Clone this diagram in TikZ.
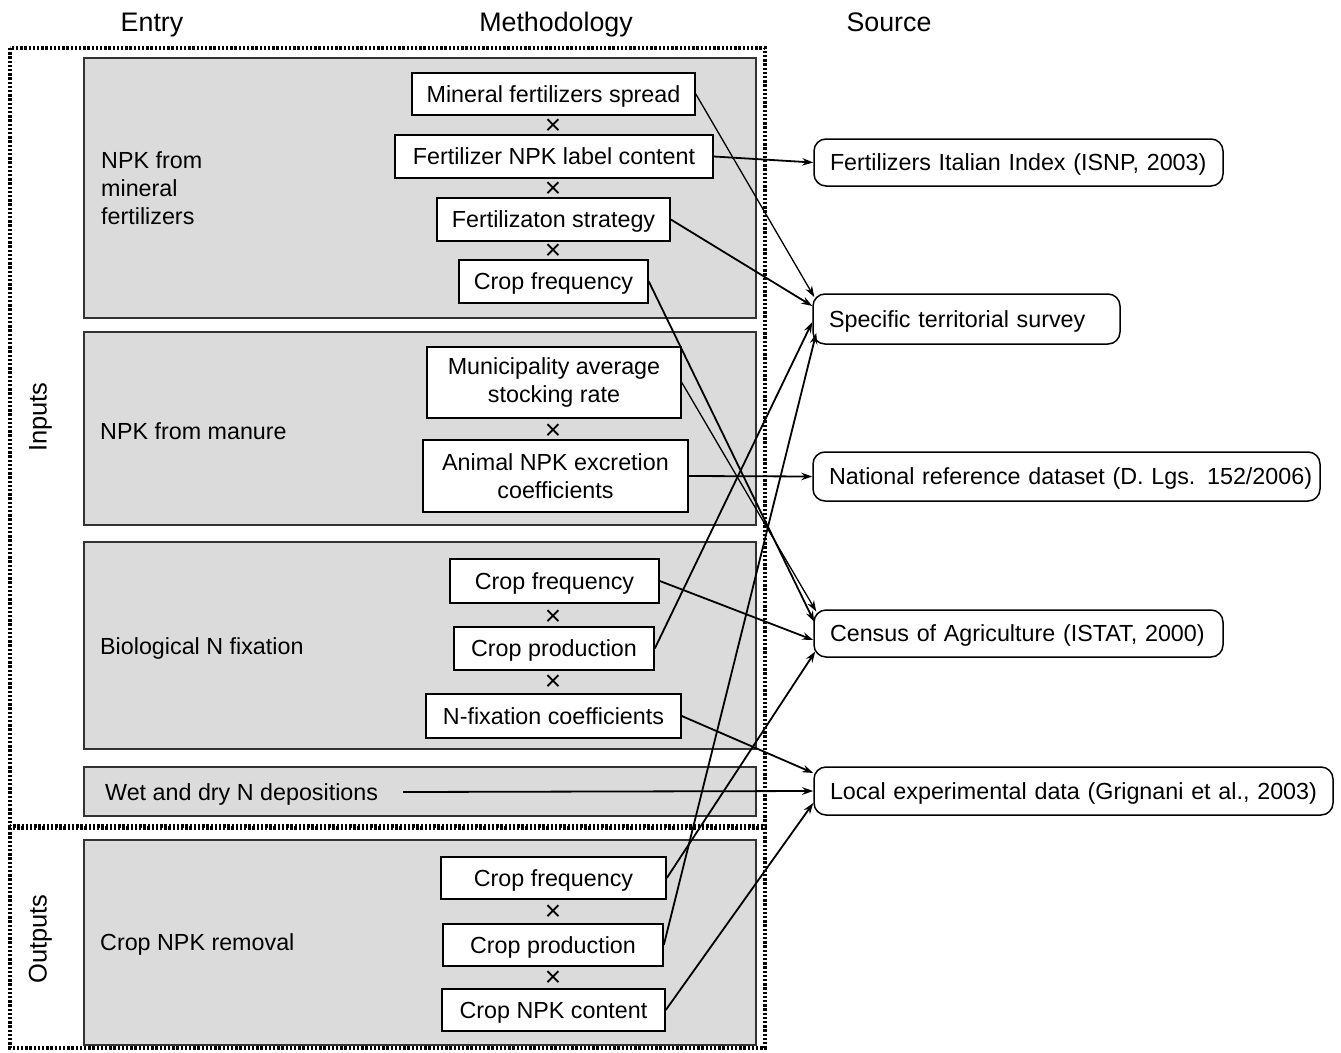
\documentclass[tikz,border=0pt]{standalone}
\usepackage{fontspec}
\setmainfont{Liberation Sans}
\usetikzlibrary{arrows.meta}
\newcommand\bodyfont{\fontsize{23.3}{28}\selectfont}
\newcommand\headfont{\fontsize{26.8}{30}\selectfont}
\newcommand\sidefont{\fontsize{25.5}{30}\selectfont}
\newcommand\mulfont{\fontsize{28}{28}\selectfont}
\begin{document}
\begin{tikzpicture}[x=1pt,y=-1pt,
 gbox/.style={draw=black!80, fill=black!14, line width=1.8pt},
 wboxbase/.style={draw=black, fill=white, line width=1.6pt, inner sep=0pt, align=center, font=\bodyfont},
 wbox/.style={wboxbase, text height=16.7pt, text depth=0pt},
 sbox/.style={draw=black, fill=white, rounded corners=12pt, line width=1.5pt, inner ysep=0pt, inner xsep=16pt, align=left, font=\bodyfont, text height=16.7pt, text depth=0pt},
 lblbase/.style={anchor=west, inner sep=0pt, align=left, font=\bodyfont},
 lbl/.style={lblbase, text height=16.7pt, text depth=0pt},
 head/.style={inner sep=0pt, font=\headfont, anchor=base},
 side/.style={inner sep=0pt, font=\sidefont, rotate=90, text height=19pt, text depth=0pt},
 mul/.style={inner sep=0pt, font=\mulfont},
 arr/.style={-{Stealth[length=11pt,width=7.5pt]}, line width=1.8pt},
 thinarr/.style={arr, line width=1.3pt},
 frame/.style={line width=3.2pt, dash pattern=on 2.4pt off 1.8pt}]
\useasboundingbox (0,0) rectangle (1341,1052);

% headers
\node[head] (hEntry) at (152,31) {Entry};
\node[head] (hMeth) at (556,31) {Methodology};
\node[head] (hSrc) at (889,31) {Source};

% dotted frames
\draw[frame] (10,48) rectangle (765,826);
\draw[frame] (10,828) rectangle (765,1048);
\node[side] (inputs) at (37,417) {Inputs};
\node[side] (outputs) at (37,939) {Outputs};

% gray boxes
\draw[gbox] (84,58) rectangle (756,318);
\draw[gbox] (84,332) rectangle (756,525);
\draw[gbox] (84,542) rectangle (756,749);
\draw[gbox] (84,767) rectangle (756,816);
\draw[gbox] (84,840) rectangle (756,1045);

\node[lblbase] (e1) at (101,188) {NPK from\\mineral\\fertilizers};
\node[lbl] (e2) at (100,431) {NPK from manure};
\node[lbl] (e3) at (100,646) {Biological N fixation};
\node[lbl] (e4) at (105,792) {Wet and dry N depositions};
\node[lbl] (e5) at (100,942) {Crop NPK removal};

% methodology boxes
\node[wbox, minimum width=283, minimum height=42] (m1) at (553.5,94) {Mineral fertilizers spread};
\node[mul] (x1) at (553,127) {×};
\node[wbox, minimum width=318, minimum height=43] (m2) at (554,156.5) {Fertilizer NPK label content};
\node[mul] (x2) at (553,190) {×};
\node[wbox, minimum width=233, minimum height=43] (m3) at (553.5,219.5) {Fertilizaton strategy};
\node[mul] (x3) at (553,252) {×};
\node[wbox, minimum width=189, minimum height=43] (m4) at (553.5,281.5) {Crop frequency};

\node[wboxbase, minimum width=254, minimum height=71] (m5) at (554,382.5) {Municipality average\\stocking rate};
\node[mul] (x4) at (553,432) {×};
\node[wboxbase, minimum width=265, minimum height=72] (m6) at (555.5,476) {Animal NPK excretion\\coefficients};

\node[wbox, minimum width=209, minimum height=44] (m7) at (554.5,581) {Crop frequency};
\node[mul] (x5) at (553,618) {×};
\node[wbox, minimum width=200, minimum height=43] (m8) at (554,648.5) {Crop production};
\node[mul] (x6) at (553,683) {×};
\node[wbox, minimum width=255, minimum height=44] (m9) at (553.5,716) {N-fixation coefficients};

\node[wbox, minimum width=225, minimum height=42] (m10) at (553.5,878) {Crop frequency};
\node[mul] (x7) at (553,913) {×};
\node[wbox, minimum width=220, minimum height=42] (m11) at (553,945) {Crop production};
\node[mul] (x8) at (553,979) {×};
\node[wbox, minimum width=223, minimum height=42] (m12) at (553.5,1010) {Crop NPK content};

% sources
\node[sbox, minimum width=409, text width=377, minimum height=47] (s1) at (1018.5,162.5) {\mbox{Fertilizers Italian Index (ISNP, 2003)}};
\node[sbox, minimum width=307, text width=275, minimum height=50] (s2) at (966.5,319) {\mbox{Specific territorial survey}};
\node[sbox, minimum width=507, text width=475, minimum height=49] (s3) at (1066.5,476.5) {\mbox{National reference dataset (D. Lgs. 152/2006)}};
\node[sbox, minimum width=409, text width=377, minimum height=47] (s4) at (1018.5,633.5) {\mbox{Census of Agriculture (ISTAT, 2000)}};
\node[sbox, minimum width=519, text width=487, minimum height=48] (s5) at (1073.5,791) {\mbox{Local experimental data (Grignani et al., 2003)}};

\coordinate (wetstart) at (403,792);

% connectors
\draw[thinarr] (m1.east) -- ([xshift=2pt,yshift=22pt]s2.west);
\draw[arr] (m2.east) -- (s1.west);
\draw[arr] (m3.east) -- ([yshift=13pt]s2.west);
\draw[arr] (m4.east) -- ([xshift=1pt,yshift=11.5pt]s4.west);
\draw[thinarr] (m5.east) -- ([xshift=3pt,yshift=22pt]s4.west);
\draw[arr] (m6.east) -- (s3.west);
\draw[arr] (m7.east) -- ([yshift=-6.5pt]s4.west);
\draw[arr] (m8.east) -- ([yshift=-3pt]s2.west);
\draw[arr] (m9.east) -- ([yshift=18pt]s5.west);
\draw[arr] (wetstart) -- (s5.west);
\draw[arr] (m12.east) -- ([yshift=-12pt]s5.west);
\draw[arr] (m10.east) -- ([xshift=2pt,yshift=-18pt]s4.west);
\draw[arr] (m11.east) -- ([xshift=4pt,yshift=-14pt]s2.west);
\end{tikzpicture}
\end{document}
